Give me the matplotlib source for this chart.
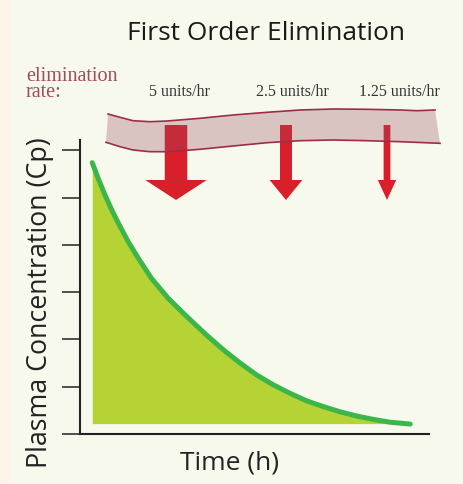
import numpy as np
import matplotlib.pyplot as plt
from matplotlib.patches import Polygon, FancyArrow

# curve (time in h, concentration in arbitrary units)
time_h = [0.35, 0.52, 0.72, 0.91, 1.10, 1.38, 1.67, 2.05, 2.53, 3.01, 3.63,
          4.11, 4.59, 5.06, 5.54, 6.02, 6.50, 6.97, 7.45, 7.93, 8.40, 8.88, 9.46]
conc = [5.74, 5.41, 5.05, 4.74, 4.46, 4.07, 3.72, 3.29, 2.87, 2.52, 2.09,
        1.78, 1.50, 1.25, 1.04, 0.86, 0.70, 0.58, 0.47, 0.38, 0.31, 0.25, 0.21]
baseline = 0.22
yticks = [0, 1, 2, 3, 4, 5, 6]

rates = [5, 2.5, 1.25]
rate_labels = ['5 units/hr', '2.5 units/hr', '1.25 units/hr']

# ribbon outline (pixel space of the 464x484 picture)
band_top_x = [108, 120, 133, 150, 167, 200, 233, 267, 300, 333, 367, 400, 417, 435]
band_top_y = [114, 117.3, 120.7, 121.7, 121, 118.3, 115, 112.3, 110, 109, 109.3, 110, 110.7, 110]
band_bot_x = [106, 120, 133, 150, 167, 200, 233, 267, 300, 333, 367, 400, 440]
band_bot_y = [142.3, 146.7, 150, 151.7, 151.7, 149.3, 146, 142.7, 140.7, 140, 140.7, 141.7, 143.3]
arrow_x = [176, 286, 387]
label_x = [180, 292, 399]

bg = '#f7f9ec'
fig = plt.figure(figsize=(4.64, 4.84), dpi=100, facecolor=bg)

# left pale strip
deco = fig.add_axes([0, 0, 1, 1], zorder=0)
deco.set_xlim(0, 464)
deco.set_ylim(484, 0)
deco.axis('off')
deco.add_patch(plt.Rectangle((0, 0), 10, 484, color='#fdf4e8', lw=0))

# main plot
ax = fig.add_axes([80 / 464, 50 / 484, 349 / 464, 294 / 484], zorder=1)
ax.patch.set_alpha(0)
ax.fill_between(time_h, conc, baseline, color='#b5d334', lw=0)
ax.plot(time_h, conc, color='#3cb54a', lw=3.6, solid_capstyle='round')
ax.set_xlim(0, 10)
ax.set_ylim(0, 6.22)
ax.set_yticks(yticks)
ax.set_yticklabels([])
ax.set_xticks([])
ax.tick_params(axis='y', length=13, width=1.1, color='#222222', direction='out')
for s in ['top', 'right']:
    ax.spines[s].set_visible(False)
for s in ['left', 'bottom']:
    ax.spines[s].set_color('#222222')
    ax.spines[s].set_linewidth(1.5)

# overlay for labels, arrows and ribbon
top = fig.add_axes([0, 0, 1, 1], zorder=2)
top.set_xlim(0, 464)
top.set_ylim(484, 0)
top.axis('off')
for r, x in zip(rates, arrow_x):
    top.add_patch(FancyArrow(x, 125, 0, 75, width=r * 4.2 + 1.5,
                             head_width=r * 11.5 + 4, head_length=20,
                             length_includes_head=True, color='#d9202a', lw=0))
poly = list(zip(band_top_x, band_top_y)) + list(zip(band_bot_x[::-1], band_bot_y[::-1]))
top.add_patch(Polygon(poly, closed=True, facecolor='#9a4a62', alpha=0.3, lw=0))
top.plot(band_top_x, band_top_y, color='#9e2c45', lw=1.2)
top.plot(band_bot_x, band_bot_y, color='#9e2c45', lw=1.2)

for lab, x in zip(rate_labels, label_x):
    top.text(x, 96, lab, ha='center', va='baseline', fontsize=11.5,
             family='Liberation Serif', color='#333333')
top.text(26, 97, 'elimination\nrate:', ha='left', va='baseline', fontsize=14.5,
         family='Liberation Serif', color='#a34a5c', linespacing=0.78)
top.text(266, 33, 'First Order Elimination', ha='center', va='center',
         fontsize=19, family='Open Sans', color='#1a1a1a')
top.text(40, 303, 'Plasma Concentration (Cp)', ha='center', va='center',
         rotation=90, fontsize=19.3, family='Open Sans', color='#222222')
top.text(230, 463, 'Time (h)', ha='center', va='center',
         fontsize=19, family='Open Sans', color='#222222')

fig.savefig('out.png', dpi=100, facecolor=bg)
